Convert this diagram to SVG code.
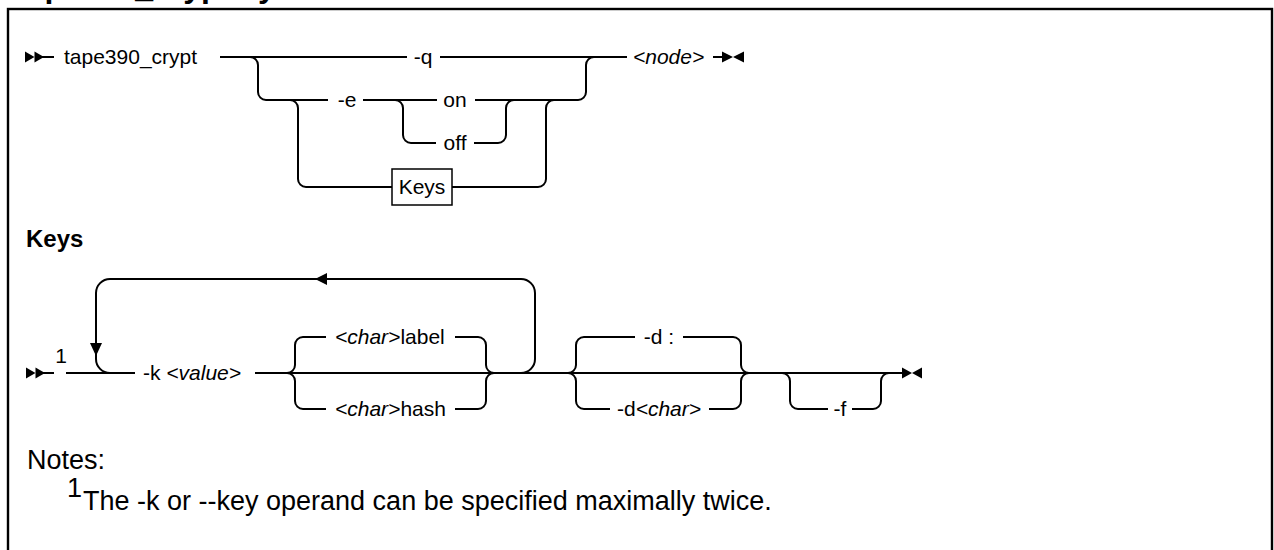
<svg xmlns="http://www.w3.org/2000/svg" width="1274" height="550" viewBox="0 0 1274 550">
<style>
.ln{fill:none;stroke:#000;stroke-width:2}
.mk{fill:#000;stroke:none}
.t{font-family:"Liberation Sans",Arial,sans-serif;font-size:21px;fill:#000}
.tm{text-anchor:middle}
.i{font-style:italic}
.h{font-family:"Liberation Sans",Arial,sans-serif;font-weight:bold;fill:#000}
.n{font-family:"Liberation Sans",Arial,sans-serif;font-size:27px;fill:#000}
</style>
<rect x="0" y="0" width="1274" height="550" fill="#fff"/>
<text class="h" x="16" y="-3" font-size="32">tape390_crypt syntax</text>
<rect x="8" y="9" width="1264" height="560" fill="none" stroke="#000" stroke-width="2.4"/>

<g id="connectors">
  <!-- row 1 -->
  <path class="ln" d="M40 57 L54 57"/>
  <path class="ln" d="M220 57 L407 57 M440 57 L627 57"/>
  <path class="ln" d="M250 57 A8 8 0 0 1 258 65 L258 92 A8 8 0 0 0 266 100 L328 100"/>
  <path class="ln" d="M363 100 L437 100 M475 100 L578 100"/>
  <path class="ln" d="M290 100 A8 8 0 0 1 298 108 L298 179 A8 8 0 0 0 306 187 L392 187"/>
  <path class="ln" d="M395 100 A8 8 0 0 1 403 108 L403 135 A8 8 0 0 0 411 143 L436 143"/>
  <path class="ln" d="M474 143 L498 143 A8 8 0 0 0 506 135 L506 108 A8 8 0 0 1 514 100"/>
  <path class="ln" d="M452 187 L538 187 A8 8 0 0 0 546 179 L546 108 A8 8 0 0 1 554 100"/>
  <path class="ln" d="M578 100 A8 8 0 0 0 586 92 L586 65 A8 8 0 0 1 594 57"/>
  <path class="ln" d="M713 57 L724 57"/>
  <polygon class="mk" points="25,51.5 34.5,57 25,62.5"/>
  <polygon class="mk" points="34.5,51.5 44,57 34.5,62.5"/>
  <polygon class="mk" points="722,51.5 733,57 722,62.5"/>
  <polygon class="mk" points="744,51.5 733,57 744,62.5"/>
  <!-- row 5 -->
  <path class="ln" d="M40 373 L54 373 M66 373 L135 373 M255 373 L903 373"/>
  <path class="ln" d="M521 373 A14 14 0 0 0 535 359 L535 293 A14 14 0 0 0 521 279 L110 279 A14 14 0 0 0 96 293 L96 359 A14 14 0 0 0 110 373"/>
  <polygon class="mk" points="315,279 327,273 327,285"/>
  <polygon class="mk" points="90,343 102,343 96,356"/>
  <path class="ln" d="M287 373 A8 8 0 0 0 295 365 L295 345 A8 8 0 0 1 303 337 L326 337"/>
  <path class="ln" d="M287 373 A8 8 0 0 1 295 381 L295 401 A8 8 0 0 0 303 409 L326 409"/>
  <path class="ln" d="M455 337 L478 337 A8 8 0 0 1 486 345 L486 365 A8 8 0 0 0 494 373"/>
  <path class="ln" d="M455 409 L478 409 A8 8 0 0 0 486 401 L486 381 A8 8 0 0 1 494 373"/>
  <path class="ln" d="M568 373 A8 8 0 0 0 576 365 L576 345 A8 8 0 0 1 584 337 L635 337 M683 337 L733 337 A8 8 0 0 1 741 345 L741 365 A8 8 0 0 0 749 373"/>
  <path class="ln" d="M568 373 A8 8 0 0 1 576 381 L576 401 A8 8 0 0 0 584 409 L610 409 M709 409 L733 409 A8 8 0 0 0 741 401 L741 381 A8 8 0 0 1 749 373"/>
  <path class="ln" d="M782 373 A8 8 0 0 1 790 381 L790 401 A8 8 0 0 0 798 409 L828 409 M852 409 L873 409 A8 8 0 0 0 881 401 L881 381 A8 8 0 0 1 889 373"/>
  <polygon class="mk" points="26,367.5 35.5,373 26,378.5"/>
  <polygon class="mk" points="35.5,367.5 45,373 35.5,378.5"/>
  <polygon class="mk" points="902,367.5 912,373 902,378.5"/>
  <polygon class="mk" points="922,367.5 912,373 922,378.5"/>
</g>

<g id="cmd"><text class="t" x="64" y="64">tape390_crypt</text></g>
<g id="opt-q"><text class="t tm" x="423" y="64">-q</text></g>
<g id="opt-e"><text class="t tm" x="347" y="107">-e</text></g>
<g id="val-on"><text class="t tm" x="455" y="107">on</text></g>
<g id="val-off"><text class="t tm" x="455" y="150">off</text></g>
<g id="keys-ref">
  <rect x="392" y="169" width="60" height="36" fill="#fff" stroke="#000" stroke-width="1.5"/>
  <text class="t tm" x="422" y="194">Keys</text>
</g>
<g id="node"><text class="t i" x="633" y="64">&lt;node&gt;</text></g>

<g id="keys-title"><text class="h" x="26" y="247" font-size="24">Keys</text></g>
<g id="fn1"><text class="t tm" x="61" y="363" font-size="18">1</text></g>
<g id="opt-k"><text class="t" x="143" y="380">-k <tspan class="i">&lt;value&gt;</tspan></text></g>
<g id="val-label"><text class="t" x="335" y="344"><tspan class="i">&lt;char&gt;</tspan>label</text></g>
<g id="val-hash"><text class="t" x="335" y="416"><tspan class="i">&lt;char&gt;</tspan>hash</text></g>
<g id="opt-d-default"><text class="t tm" x="659" y="344">-d :</text></g>
<g id="opt-d"><text class="t tm" x="659" y="416">-d<tspan class="i">&lt;char&gt;</tspan></text></g>
<g id="opt-f"><text class="t tm" x="840" y="416">-f</text></g>

<g id="notes">
  <text class="n" x="27" y="469">Notes:</text>
  <text class="n" x="67" y="497" font-size="16">1</text>
  <text class="n" x="83" y="510">The -k or --key operand can be specified maximally twice.</text>
</g>
</svg>
